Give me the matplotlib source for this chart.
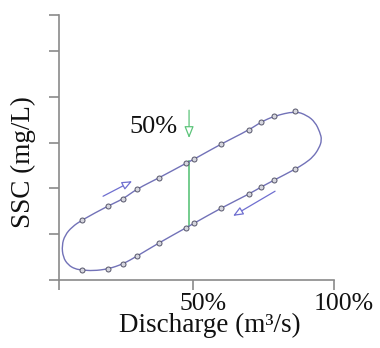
import matplotlib
matplotlib.use('Agg')
import matplotlib.pyplot as plt
import matplotlib.transforms as mtransforms
from matplotlib.path import Path
from matplotlib.patches import PathPatch
import numpy as np

plt.rcParams['font.family'] = ['Liberation Serif', 'DejaVu Serif']

# ---- data (discharge in %, SSC in arbitrary tick units) ----
q_markers = [10.6, 19.9, 25.2, 30.1, 37.9, 47.5, 50.4, 59.9, 69.9, 74.1, 78.7, 86.2]
ssc_rising = [1.31, 1.62, 1.77, 1.99, 2.23, 2.55, 2.64, 2.97, 3.28, 3.45, 3.58, 3.69]
ssc_falling = [0.22, 0.24, 0.35, 0.52, 0.81, 1.14, 1.24, 1.57, 1.88, 2.03, 2.18, 2.42]

# turning sections of the hysteresis loop
right_turn_q = [90.4, 93.3, 95.0, 95.7, 94.7, 92.6, 89.7]
right_turn_ssc = [3.60, 3.45, 3.23, 3.06, 2.88, 2.69, 2.55]
dip_q = [14.5]
dip_ssc = [0.20]
left_turn_q = [8.2, 5.7, 3.9, 3.5, 4.6, 7.1]
left_turn_ssc = [0.24, 0.33, 0.50, 0.76, 0.98, 1.16]

# 50% discharge line
q50 = 48.6
ssc50 = [1.18, 2.59]

xtick_vals = [2.3, 50, 100]
xtick_labels = ['', '50%', '100%']
ytick_vals = [0, 1, 2, 3, 4, 5, 5.79]

line_col = '#7272b8'
green = '#5cc47a'
axis_col = '#8a8a8a'

fig = plt.figure(figsize=(3.8, 3.48), dpi=100)
ax = fig.add_axes([58.5/380, 68/348, 275.5/380, 265/348])

# loop path (smooth quadratic b-spline through the listed points)
loop_q = (q_markers + right_turn_q + q_markers[::-1][:-1] + dip_q + [q_markers[0]] + left_turn_q)
loop_s = (ssc_rising + right_turn_ssc + ssc_falling[::-1][:-1] + dip_ssc + [ssc_falling[0]] + left_turn_ssc)
pts = np.column_stack([loop_q, loop_s])
n = len(pts)
mids = (pts + np.roll(pts, -1, axis=0)) / 2
verts = [mids[-1]]
codes = [Path.MOVETO]
for i in range(n):
    verts += [pts[i], mids[i]]
    codes += [Path.CURVE3, Path.CURVE3]
path = Path(verts, codes)
ax.add_patch(PathPatch(path, fc='none', ec=line_col, lw=1.0, zorder=2))

ax.plot(q_markers, ssc_rising, 'o', ms=3.6, mfc='#d6d6de', mec='#55556a', mew=0.7, zorder=3)
ax.plot(q_markers, ssc_falling, 'o', ms=3.6, mfc='#d6d6de', mec='#55556a', mew=0.7, zorder=3)

ax.plot([q50, q50], ssc50, color=green, lw=1.2, zorder=1)

ax.annotate('', xy=(q50, 3.10), xytext=(q50, 3.71),
            arrowprops=dict(arrowstyle='-|>,head_length=0.7,head_width=0.28',
                            ec=green, fc='white', lw=0.9, shrinkA=0, shrinkB=0))
ax.text(35.8, 3.34, '50%', fontsize=19, ha='center', va='center', color='#111111')

ax.annotate('', xy=(28.4, 2.16), xytext=(18.1, 1.83),
            arrowprops=dict(arrowstyle='-|>,head_length=0.6,head_width=0.25',
                            ec='#6f6fd0', fc='white', lw=0.9, shrinkA=0, shrinkB=0))
ax.annotate('', xy=(64.2, 1.40), xytext=(79.1, 1.94),
            arrowprops=dict(arrowstyle='-|>,head_length=0.6,head_width=0.25',
                            ec='#6f6fd0', fc='white', lw=0.9, shrinkA=0, shrinkB=0))

ax.set_xlim(2.3, 100)
ax.set_ylim(0, 5.79)
for s in ['top', 'right']:
    ax.spines[s].set_visible(False)
for s in ['left', 'bottom']:
    ax.spines[s].set_color(axis_col)
    ax.spines[s].set_linewidth(1.2)

ax.set_xticks(xtick_vals)
ax.set_xticklabels(xtick_labels, fontsize=18.5, color='#111111')
ax.set_yticks(ytick_vals)
ax.set_yticklabels([''] * len(ytick_vals))
ax.tick_params(axis='both', direction='out', length=7, width=1.2, color=axis_col, pad=2)

off = mtransforms.ScaledTranslation(10/100, 0, fig.dpi_scale_trans)
for lab in ax.get_xticklabels():
    lab.set_transform(lab.get_transform() + off)

ax.set_xlabel('Discharge (m³/s)', fontsize=19.5, color='#111111')
ax.xaxis.set_label_coords(0.55, -0.125)
ax.set_ylabel('SSC (mg/L)', fontsize=19.5, color='#111111')
ax.yaxis.set_label_coords(-0.08, 0.445)

fig.savefig('out.png', dpi=100)
